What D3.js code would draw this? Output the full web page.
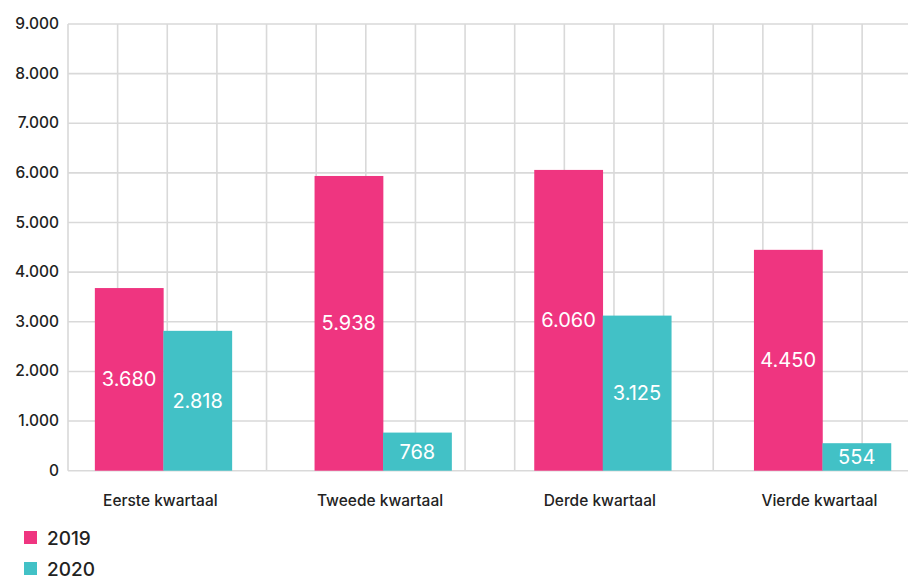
<!DOCTYPE html>
<html>
<head>
<meta charset="utf-8">
<script src="https://cdn.jsdelivr.net/npm/d3@7"></script>
<style>
  html, body { margin: 0; padding: 0; background: #fff; }
  svg { display: block; font-family: Inter, "Noto Sans", sans-serif; }
</style>
</head>
<body>
<svg id="chart" width="908" height="579"></svg>
<script>
const categories = ["Eerste kwartaal", "Tweede kwartaal", "Derde kwartaal", "Vierde kwartaal"];
const seriesNames = ["2019", "2020"];
const values2019 = [3680, 5938, 6060, 4450];
const values2020 = [2818, 768, 3125, 554];
const yTicks = [0, 1000, 2000, 3000, 4000, 5000, 6000, 7000, 8000, 9000];
const colors = ["#EF3580", "#42C1C6"];

const svg = d3.select("#chart");
const W = 908, H = 579;

const y = d3.scaleLinear().domain([0, 9000]).range([470.7, 24]);
const unit = y(0) - y(1000);
const gridLeft = 68;

const x0 = d3.scaleBand().domain(categories).range([53.5, 932.3]).paddingInner(0).paddingOuter(0);
const x1 = d3.scaleBand().domain(seriesNames).range([0, 137]).padding(0);
const bandOffset = (x0.bandwidth() - 137) / 2;

// vertical grid via linear scale in "grid units"
const gx = d3.scaleLinear().domain([0, 1]).range([gridLeft, gridLeft + unit]);
const vLines = d3.range(0, 17);
const g = svg.append("g");
g.selectAll("line.v").data(vLines).join("line")
  .attr("x1", d => gx(d)).attr("x2", d => gx(d))
  .attr("y1", y(9000)).attr("y2", y(0))
  .attr("stroke", "#d9d9d9").attr("stroke-width", 1.6);
g.selectAll("line.h").data(yTicks).join("line")
  .attr("x1", gridLeft).attr("x2", W)
  .attr("y1", d => y(d)).attr("y2", d => y(d))
  .attr("stroke", "#d9d9d9").attr("stroke-width", 1.6);

// y axis labels
const fmt = d => d3.format(",")(d).replace(/,/g, ".");
svg.append("g").selectAll("text").data(yTicks).join("text")
  .attr("x", 59).attr("y", d => y(d) + 5)
  .attr("text-anchor", "end").attr("font-size", 15.5).attr("font-weight", 500).attr("fill", "#222")
  .text(fmt);

// bars
const data = categories.map((c, i) => ({ cat: c, vals: [
  { s: "2019", v: values2019[i], c: colors[0] },
  { s: "2020", v: values2020[i], c: colors[1] }
]}));
const groups = svg.append("g").selectAll("g").data(data).join("g")
  .attr("transform", d => `translate(${x0(d.cat) + bandOffset},0)`);
groups.selectAll("rect").data(d => d.vals).join("rect")
  .attr("x", d => x1(d.s)).attr("width", x1.bandwidth() + 0.3)
  .attr("y", d => y(d.v)).attr("height", d => y(0) - y(d.v))
  .attr("fill", d => d.c);
groups.selectAll("text").data(d => d.vals).join("text")
  .attr("x", d => x1(d.s) + x1.bandwidth() / 2)
  .attr("y", d => (y(d.v) + y(0)) / 2 + 7)
  .attr("text-anchor", "middle").attr("font-size", 20).attr("fill", "#fff")
  .text(d => fmt(d.v));

// category labels
svg.append("g").selectAll("text").data(categories).join("text")
  .attr("x", d => x0(d) + x0.bandwidth() / 2 - 3)
  .attr("y", 506).attr("text-anchor", "middle")
  .attr("font-size", 15.5).attr("font-weight", 500).attr("fill", "#222")
  .text(d => d);

// legend
const leg = svg.append("g").selectAll("g").data(seriesNames).join("g")
  .attr("transform", (d, i) => `translate(24,${531 + i * 31})`);
leg.append("rect").attr("width", 13).attr("height", 13).attr("fill", (d, i) => colors[i]);
leg.append("text").attr("x", 23).attr("y", 13.5).attr("font-size", 19).attr("font-weight", 500).attr("fill", "#222").text(d => d);
</script>
</body>
</html>
